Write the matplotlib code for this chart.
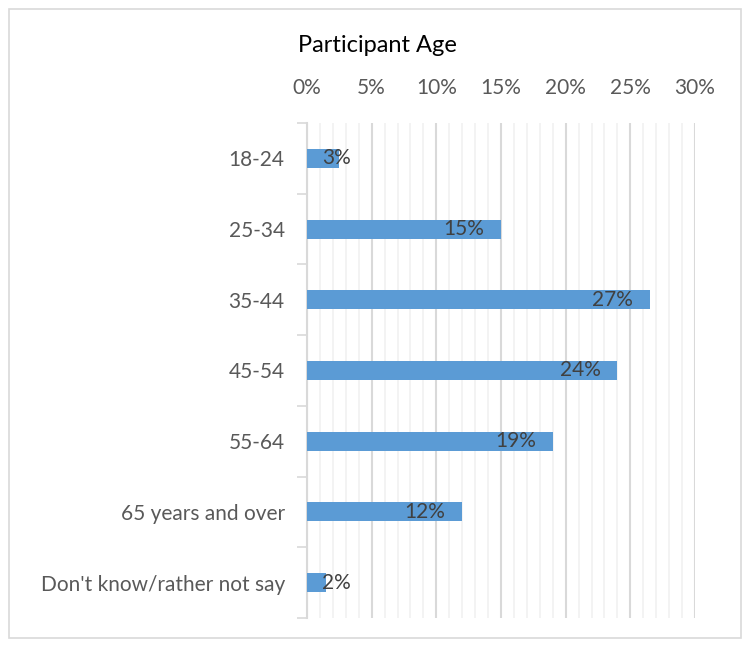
import matplotlib
matplotlib.use('Agg')
import matplotlib.pyplot as plt
from matplotlib.patches import Rectangle
from matplotlib.ticker import MultipleLocator, FuncFormatter

# --- data
categories = ['18-24', '25-34', '35-44', '45-54', '55-64',
              '65 years and over', "Don't know/rather not say"]
values = [2.5, 15.0, 26.5, 24.0, 19.0, 12.0, 1.5]
labels = ['3%', '15%', '27%', '24%', '19%', '12%', '2%']

plt.rcParams['font.family'] = ['Lato', 'DejaVu Sans']

fig = plt.figure(figsize=(7.5, 6.48), dpi=100)
ax = fig.add_axes([0.4093, 0.0463, 0.5174, 0.7639])

# outer chart border
fig.patches.append(Rectangle((0.012, 0.015), 0.976, 0.971, transform=fig.transFigure,
                             fill=False, edgecolor='#d9d9d9', lw=1.2))

ypos = list(range(len(categories)))
ax.barh(ypos, values, height=0.27, color='#5b9bd5', zorder=3)

for y, v, lab in zip(ypos, values, labels):
    if v > 5:
        ax.text(v - 1.3, y, lab, ha='right', va='center', fontsize=15, color='#404040', zorder=4)
    else:
        ax.text(1.2, y, lab, ha='left', va='center', fontsize=15, color='#404040', zorder=4)

ax.set_xlim(0, 30)
ax.set_ylim(len(categories) - 0.5, -0.5)

ax.xaxis.tick_top()
ax.xaxis.set_major_locator(MultipleLocator(5))
ax.xaxis.set_minor_locator(MultipleLocator(1))
ax.xaxis.set_major_formatter(FuncFormatter(lambda x, p: f'{x:.0f}%'))
ax.tick_params(axis='x', which='both', length=0, labelsize=15, labelcolor='#595959', pad=18)
ax.grid(axis='x', which='major', color='#d9d9d9', lw=1.5, zorder=0)
ax.grid(axis='x', which='minor', color='#f2f2f2', lw=1.3, zorder=0)

ax.set_yticks(ypos)
ax.set_yticklabels(categories)
ax.set_yticks([i - 0.5 for i in range(len(categories) + 1)], minor=True)
ax.tick_params(axis='y', which='major', length=0, labelsize=15, labelcolor='#595959', pad=16)
ax.tick_params(axis='y', which='minor', length=7, color='#d9d9d9', width=1.2)

for s in ['top', 'right', 'bottom']:
    ax.spines[s].set_visible(False)
ax.spines['left'].set_color('#d9d9d9')
ax.spines['left'].set_linewidth(1.5)

fig.text(0.503, 0.93, 'Participant Age', ha='center', va='center', fontsize=17, color='black')

fig.savefig('out.png', dpi=100)
